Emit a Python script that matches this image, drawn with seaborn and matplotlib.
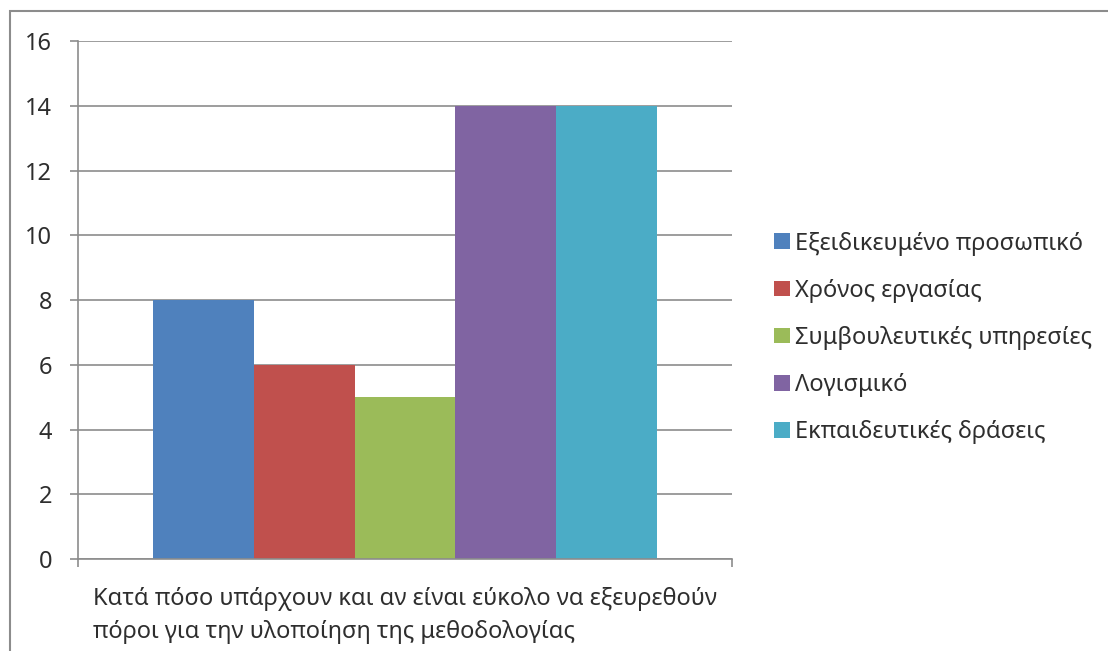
import textwrap
import matplotlib
matplotlib.use("Agg")
import matplotlib.pyplot as plt
from matplotlib.patches import Rectangle, Patch
import seaborn as sns
import pandas as pd

# Survey question (single category) and the resource types compared
question = ["Κατά πόσο υπάρχουν και αν είναι εύκολο να εξευρεθούν "
            "πόροι για την υλοποίηση της μεθοδολογίας"]
resources = ["Εξειδικευμένο προσωπικό", "Χρόνος εργασίας",
             "Συμβουλευτικές υπηρεσίες", "Λογισμικό",
             "Εκπαιδευτικές δράσεις"]
counts = [8, 6, 5, 14, 14]
y_ticks = [0, 2, 4, 6, 8, 10, 12, 14, 16]

colors = ["#4F81BD", "#C0504D", "#9BBB59", "#8064A2", "#4BACC6"]

df = pd.DataFrame({
    "question": question * len(resources),
    "resource": resources,
    "count": counts,
})

sns.set_theme(style="white")
plt.rcParams["font.family"] = ["Noto Sans", "DejaVu Sans"]

fig = plt.figure(figsize=(11.08, 6.51), dpi=100)
ax = fig.add_axes([0.0704, 0.1413, 0.5902, 0.7957])

sns.barplot(data=df, x="question", y="count", hue="resource",
            hue_order=resources, palette=colors, width=0.77,
            saturation=1, ax=ax, legend=False, linewidth=0)

ax.set_ylim(0, 16)
ax.set_xlim(-0.5, 0.5)
ax.set_yticks(y_ticks)
ax.yaxis.grid(True, color="#8c8c8c", linewidth=1.2)
ax.set_axisbelow(True)

for side in ("top", "right"):
    ax.spines[side].set_visible(False)
for side in ("left", "bottom"):
    ax.spines[side].set_color("#8c8c8c")
    ax.spines[side].set_linewidth(1.2)

ax.tick_params(axis="y", which="major", direction="out", length=5.8,
               width=1.2, color="#8c8c8c", labelsize=17,
               labelcolor="#2e2e2e", pad=13, left=True)
ax.tick_params(axis="x", which="major", length=0, labelsize=17,
               labelcolor="#2e2e2e", pad=20)
ax.set_xticks([-0.5, 0.5], minor=True)
ax.tick_params(axis="x", which="minor", direction="out", length=5.8,
               width=1.2, color="#8c8c8c", bottom=True)

ax.set_xticks([0])
ax.set_xticklabels([textwrap.fill(question[0], 52)],
                   multialignment="left", linespacing=1.5)
ax.set_xlabel("")
ax.set_ylabel("")

handles = [Patch(facecolor=c, edgecolor="none") for c in colors]
fig.legend(handles, resources, loc="center left",
           bbox_to_anchor=(0.699, 0.481), frameon=False, fontsize=17,
           handlelength=0.65, handleheight=0.65, handletextpad=0.22,
           labelspacing=0.98, labelcolor="#2e2e2e", borderaxespad=0,
           borderpad=0)

# Outer chart frame (runs off the right and bottom edges)
fig.patches.append(Rectangle((10 / 1108, -0.2), 1.2, 1.2 - 11 / 651,
                             transform=fig.transFigure, fill=False,
                             edgecolor="#8c8c8c", linewidth=1.5))

fig.savefig("out.png", dpi=100)
